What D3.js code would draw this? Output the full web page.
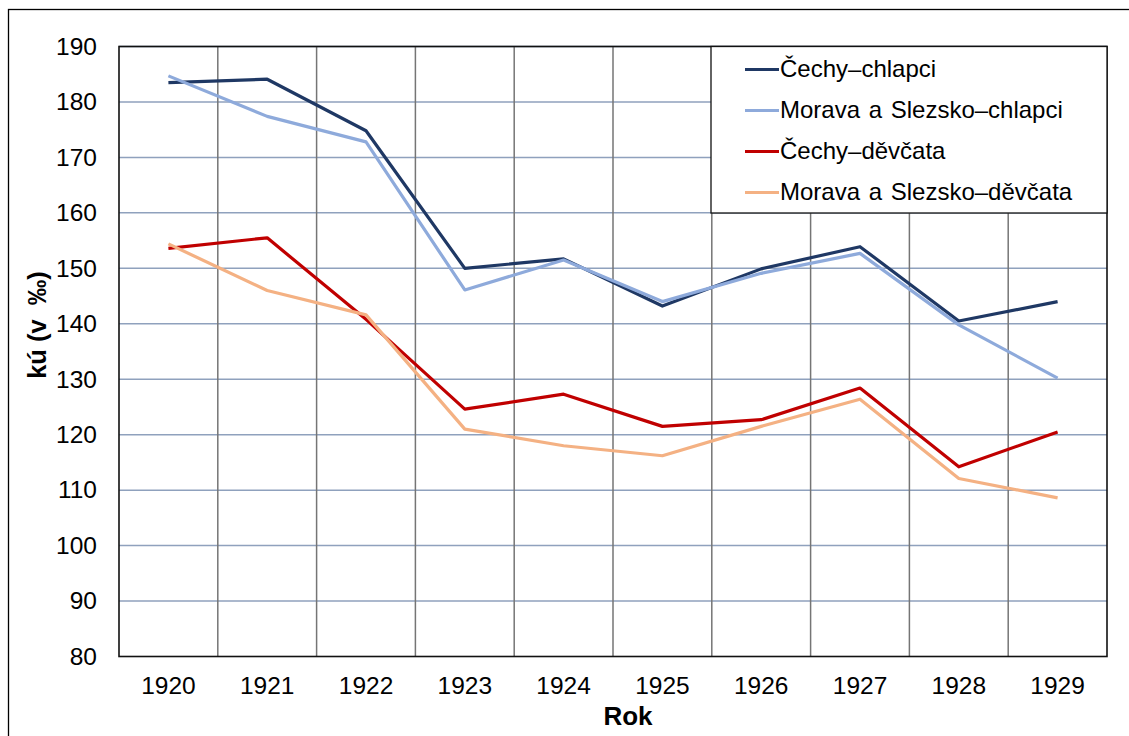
<!DOCTYPE html>
<html>
<head>
<meta charset="utf-8">
<script src="https://cdn.jsdelivr.net/npm/d3@7"></script>
<style>
  body { margin: 0; background: #fff; }
  svg text { font-family: "Liberation Sans", Arial, sans-serif; fill: #000; }
</style>
</head>
<body>
<svg id="chart" width="1129" height="736"></svg>
<script>
// data
var years = ["1920", "1921", "1922", "1923", "1924", "1925", "1926", "1927", "1928", "1929"];
var cechyChlapci = [183.5, 184.1, 174.8, 150.0, 151.7, 143.2, 149.9, 153.9, 140.5, 144.0];
var moravaChlapci = [184.7, 177.4, 172.8, 146.1, 151.5, 144.0, 149.1, 152.7, 139.8, 130.2];
var cechyDevcata = [153.6, 155.5, 140.8, 124.6, 127.3, 121.5, 122.7, 128.4, 114.2, 120.5];
var moravaDevcata = [154.4, 146.0, 141.6, 121.0, 118.0, 116.2, 121.5, 126.4, 112.1, 108.6];
var yTicks = [80, 90, 100, 110, 120, 130, 140, 150, 160, 170, 180, 190];

var series = [
  { name: "Čechy–chlapci", values: cechyChlapci, color: "#1F3864" },
  { name: "Morava a Slezsko–chlapci", values: moravaChlapci, color: "#8EAADB" },
  { name: "Čechy–děvčata", values: cechyDevcata, color: "#C00000" },
  { name: "Morava a Slezsko–děvčata", values: moravaDevcata, color: "#F4B183" }
];

var svg = d3.select("#chart");
var plot = { left: 119, top: 46.5, right: 1107, bottom: 656.5 };

// outer chart frame
svg.append("rect")
  .attr("x", 8.5).attr("y", 9.5)
  .attr("width", 1200).attr("height", 800)
  .attr("fill", "none").attr("stroke", "#000").attr("stroke-width", 1.3);

var x = d3.scaleBand().domain(years).range([plot.left, plot.right]);
var y = d3.scaleLinear().domain([80, 190]).range([plot.bottom, plot.top]);

// horizontal gridlines
svg.append("g").selectAll("line")
  .data(yTicks.slice(1))
  .join("line")
  .attr("x1", plot.left).attr("x2", plot.right)
  .attr("y1", d => y(d)).attr("y2", d => y(d))
  .attr("stroke", "#8FA1BD").attr("stroke-width", 1.5);

// vertical gridlines at category boundaries
svg.append("g").selectAll("line")
  .data(years.slice(1))
  .join("line")
  .attr("x1", d => x(d)).attr("x2", d => x(d))
  .attr("y1", plot.top).attr("y2", plot.bottom)
  .attr("stroke", "#757575").attr("stroke-width", 1.5);

// plot border
svg.append("rect")
  .attr("x", plot.left).attr("y", plot.top)
  .attr("width", plot.right - plot.left).attr("height", plot.bottom - plot.top)
  .attr("fill", "none").attr("stroke", "#111").attr("stroke-width", 1.6);

// y axis labels
var yAxis = svg.append("g")
  .attr("transform", "translate(" + plot.left + ",0)")
  .call(d3.axisLeft(y).tickValues(yTicks).tickSize(0).tickPadding(22));
yAxis.select(".domain").remove();
yAxis.selectAll("text")
  .style("font-size", "24.5px")
  .style("font-family", "'Liberation Sans', Arial, sans-serif")
  .attr("fill", "#000");

// x axis labels
var xAxis = svg.append("g")
  .attr("transform", "translate(0," + plot.bottom + ")")
  .call(d3.axisBottom(x).tickSize(0).tickPadding(20));
xAxis.select(".domain").remove();
xAxis.selectAll("text")
  .style("font-size", "24.5px")
  .style("font-family", "'Liberation Sans', Arial, sans-serif")
  .attr("fill", "#000");

// lines
var line = d3.line()
  .x((d, i) => x(years[i]) + x.bandwidth() / 2)
  .y(d => y(d));

svg.append("g").selectAll("path")
  .data(series)
  .join("path")
  .attr("d", d => line(d.values))
  .attr("fill", "none")
  .attr("stroke", d => d.color)
  .attr("stroke-width", 3.2)
  .attr("stroke-linejoin", "round");

// legend
var leg = svg.append("g");
leg.append("rect")
  .attr("x", 711).attr("y", plot.top)
  .attr("width", plot.right - 711).attr("height", 213 - plot.top)
  .attr("fill", "#fff").attr("stroke", "#111").attr("stroke-width", 1.3);

var item = leg.selectAll("g.item")
  .data(series)
  .join("g")
  .attr("class", "item")
  .attr("transform", (d, i) => "translate(0," + (77 + i * 41) + ")");
item.append("line")
  .attr("x1", 745).attr("x2", 779)
  .attr("y1", -7.5).attr("y2", -7.5)
  .attr("stroke", d => d.color).attr("stroke-width", 3.2);
item.append("text")
  .attr("x", 780).attr("y", 0)
  .style("font-size", "24px")
  .style("word-spacing", "2px")
  .text(d => d.name);

// axis titles
svg.append("text")
  .attr("transform", "translate(46,325) rotate(-90)")
  .attr("text-anchor", "middle")
  .style("font-size", "25.5px").style("font-weight", "bold")
  .text("kú (v\u00a0\u00a0‰)");

svg.append("text")
  .attr("x", 628).attr("y", 725)
  .attr("text-anchor", "middle")
  .style("font-size", "26px").style("font-weight", "bold")
  .text("Rok");
</script>
</body>
</html>
